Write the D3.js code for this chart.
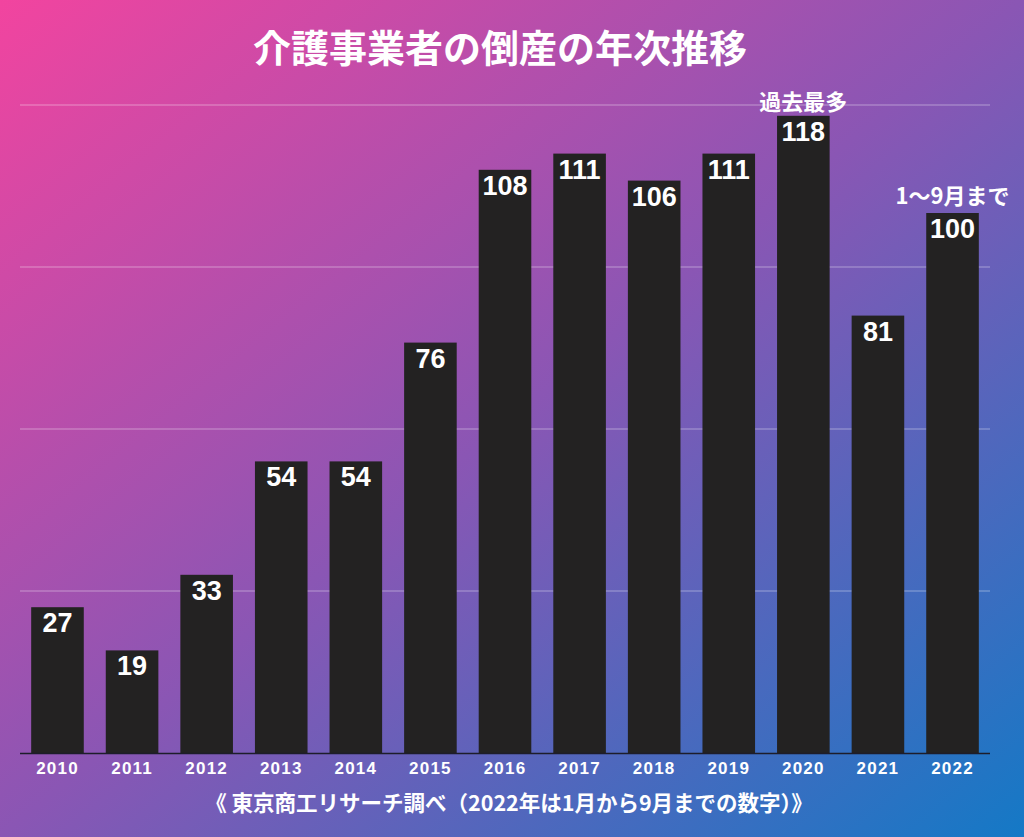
<!DOCTYPE html>
<html><head><meta charset="utf-8">
<script src="https://cdn.jsdelivr.net/npm/d3@7"></script>
<style>html,body{margin:0;padding:0;overflow:hidden;background:#000}</style>
</head><body>
<script>
const years = ["2010","2011","2012","2013","2014","2015","2016","2017","2018","2019","2020","2021","2022"];
const counts = [27,19,33,54,54,76,108,111,106,111,118,81,100];
const gridTicks = [0,30,60,90,120];
const titleText = "介護事業者の倒産の年次推移";
const sourceText = "《 東京商工リサーチ調べ（2022年は1月から9月までの数字）》";
const notes = [{year:"2020", text:"過去最多", dy:-6},{year:"2022", text:"1〜9月まで", dy:-9}];

const W = 1024, H = 837;
const svg = d3.select("body").append("svg").attr("width", W).attr("height", H);
const defs = svg.append("defs");
const g = defs.append("linearGradient").attr("id","bg").attr("x1","0").attr("y1","0").attr("x2","1").attr("y2","1");
g.append("stop").attr("offset","0").attr("stop-color","#f2449f");
g.append("stop").attr("offset","0.5").attr("stop-color","#8a56b4");
g.append("stop").attr("offset","1").attr("stop-color","#1479c6");
svg.append("rect").attr("width",W).attr("height",H).attr("fill","url(#bg)");

const font = "'Noto Sans CJK JP', 'Noto Sans', sans-serif";
const numFont = "'Liberation Sans', Arial, sans-serif";
const x = d3.scaleBand().domain(years).range([20, 990]).paddingInner(0.295).paddingOuter(0.15);
const y = d3.scaleLinear().domain([0,120]).range([753, 105]);

// gridlines
svg.append("g").selectAll("line").data(gridTicks.slice(1)).join("line")
  .attr("x1",20).attr("x2",990).attr("y1",d=>y(d)).attr("y2",d=>y(d))
  .attr("stroke","rgba(255,255,255,0.4)").attr("stroke-width",1);

// bars
svg.append("g").selectAll("rect").data(years).join("rect")
  .attr("x",d=>x(d)).attr("width",x.bandwidth())
  .attr("y",(d,i)=>y(counts[i])).attr("height",(d,i)=>y(0)-y(counts[i]))
  .attr("fill","#232222");

// baseline
svg.append("line").attr("x1",20).attr("x2",990).attr("y1",y(0)+0.5).attr("y2",y(0)+0.5)
  .attr("stroke","#1d1d2a").attr("stroke-width",1.5);

// value labels
svg.append("g").selectAll("text").data(years).join("text")
  .attr("x",d=>x(d)+x.bandwidth()/2).attr("y",(d,i)=>y(counts[i])+25)
  .attr("text-anchor","middle").attr("fill","#fff")
  .attr("font-family",numFont).attr("font-weight","bold").attr("font-size",27)
  .text((d,i)=>counts[i]);

// x axis labels
const xAxis = d3.axisBottom(x).tickSize(0).tickPadding(9);
const ax = svg.append("g").attr("transform",`translate(0,${y(0)})`).call(xAxis);
ax.select(".domain").remove();
ax.selectAll("text").attr("fill","#fff").attr("font-family",numFont).attr("font-weight","bold")
  .attr("font-size",17).attr("letter-spacing",1.2);

// title
svg.append("text").attr("x",500).attr("y",62).attr("text-anchor","middle")
  .attr("fill","#fff").attr("font-family",font).attr("font-weight","bold").attr("font-size",38)
  .text(titleText);

// notes
svg.append("g").selectAll("text").data(notes).join("text")
  .attr("x",d=>x(d.year)+x.bandwidth()/2)
  .attr("y",d=>y(counts[years.indexOf(d.year)])+d.dy)
  .attr("text-anchor","middle").attr("fill","#fff")
  .attr("font-family",font).attr("font-weight","bold").attr("font-size",22)
  .text(d=>d.text);

// source
svg.append("text").attr("x",509).attr("y",811).attr("text-anchor","middle")
  .attr("fill","#fff").attr("font-family",font).attr("font-weight","bold").attr("font-size",21.5)
  .text(sourceText);
</script>
</body></html>
